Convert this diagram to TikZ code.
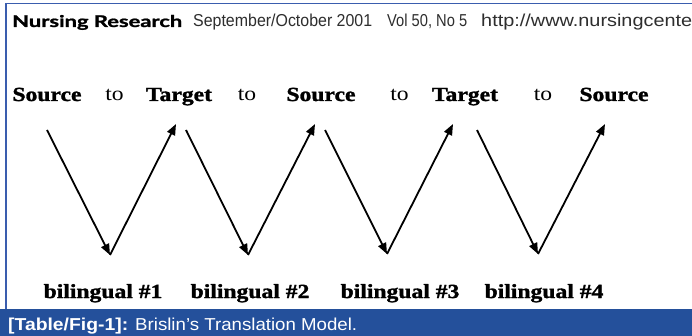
\documentclass[tikz,border=0pt]{standalone}
\usepackage{fontspec}
\setmainfont{Liberation Serif}[BoldFeatures={FakeBold=1.3}]
\newfontfamily\hsans{Liberation Sans}
\newfontfamily\gill{Lato}[BoldFeatures={FakeBold=1.2}]
\usetikzlibrary{arrows.meta}
\definecolor{frameblue}{HTML}{3A5DAE}
\definecolor{capblue}{HTML}{24509B}
\definecolor{hdrgray}{HTML}{2E2E2E}
\newcommand\tw[1]{\scalebox{1.18}[1]{\fontsize{20}{20}\selectfont #1}}
\begin{document}
\begin{tikzpicture}[x=1pt,y=-1pt,
  txt/.style={inner sep=0pt, anchor=base},
  txtw/.style={inner sep=0pt, anchor=base west},
  arr/.style={line width=1.8pt, -{Triangle[length=11pt,width=8.5pt]}}]
\useasboundingbox (0,0) rectangle (692,336);
\fill[white] (0,0) rectangle (692,336);
\draw[frameblue, line width=1.5pt] (6,309) -- (6,3.5) -- (692,3.5);
\fill[capblue] (0,309) rectangle (692,336);
% header
\node[txtw] (nr) at (12,27) {\resizebox{170pt}{12pt}{\gill\bfseries Nursing Research}};
\node[txtw, text=hdrgray] (sep) at (193,27) {\resizebox{179pt}{12.5pt}{\hsans September/October 2001}};
\node[txtw, text=hdrgray] (vol) at (387,27) {\resizebox{80pt}{12.5pt}{\hsans Vol 50, No 5}};
\node[txtw, text=hdrgray] (url) at (481,27) {\resizebox{211pt}{12.5pt}{\hsans http://www.nursingcente}};
% words
\node[txt] (s1) at (47,101) {\tw{\bfseries Source}};
\node[txt] (to1) at (114.5,101) {\tw{to}};
\node[txt] (t1) at (179,101) {\tw{\bfseries Target}};
\node[txt] (to2) at (247,101) {\tw{to}};
\node[txt] (s2) at (321,101) {\tw{\bfseries Source}};
\node[txt] (to3) at (399.5,101) {\tw{to}};
\node[txt] (t2) at (465,101) {\tw{\bfseries Target}};
\node[txt] (to4) at (543,101) {\tw{to}};
\node[txt] (s3) at (614,101) {\tw{\bfseries Source}};
% arrow coordinates
\coordinate (d1s) at (47,130);  \coordinate (b1) at (110,255); \coordinate (u1e) at (176,124);
\coordinate (d2s) at (186,130); \coordinate (b2) at (248,255); \coordinate (u2e) at (315,124);
\coordinate (d3s) at (325,130); \coordinate (b3) at (387,254); \coordinate (u3e) at (453,124);
\coordinate (d4s) at (477,130); \coordinate (b4) at (538,254); \coordinate (u4e) at (605,124);
\foreach \i in {1,2,3,4}{
  \draw[arr] (d\i s) -- (b\i);
  \draw[arr] (b\i) -- (u\i e);
}
% bilingual labels
\node[txt] (l1) at (103,298) {\tw{\bfseries bilingual \#1}};
\node[txt] (l2) at (250,298) {\tw{\bfseries bilingual \#2}};
\node[txt] (l3) at (400,298) {\tw{\bfseries bilingual \#3}};
\node[txt] (l4) at (544,298) {\tw{\bfseries bilingual \#4}};
% caption
\node[txtw, text=white] (cap1) at (8,330) {\resizebox{120pt}{12.5pt}{\hsans\bfseries [Table/Fig-1]:}};
\node[txtw, text=white] (cap2) at (135,330) {\resizebox{222pt}{12.5pt}{\hsans Brislin’s Translation Model.}};
\end{tikzpicture}
\end{document}
